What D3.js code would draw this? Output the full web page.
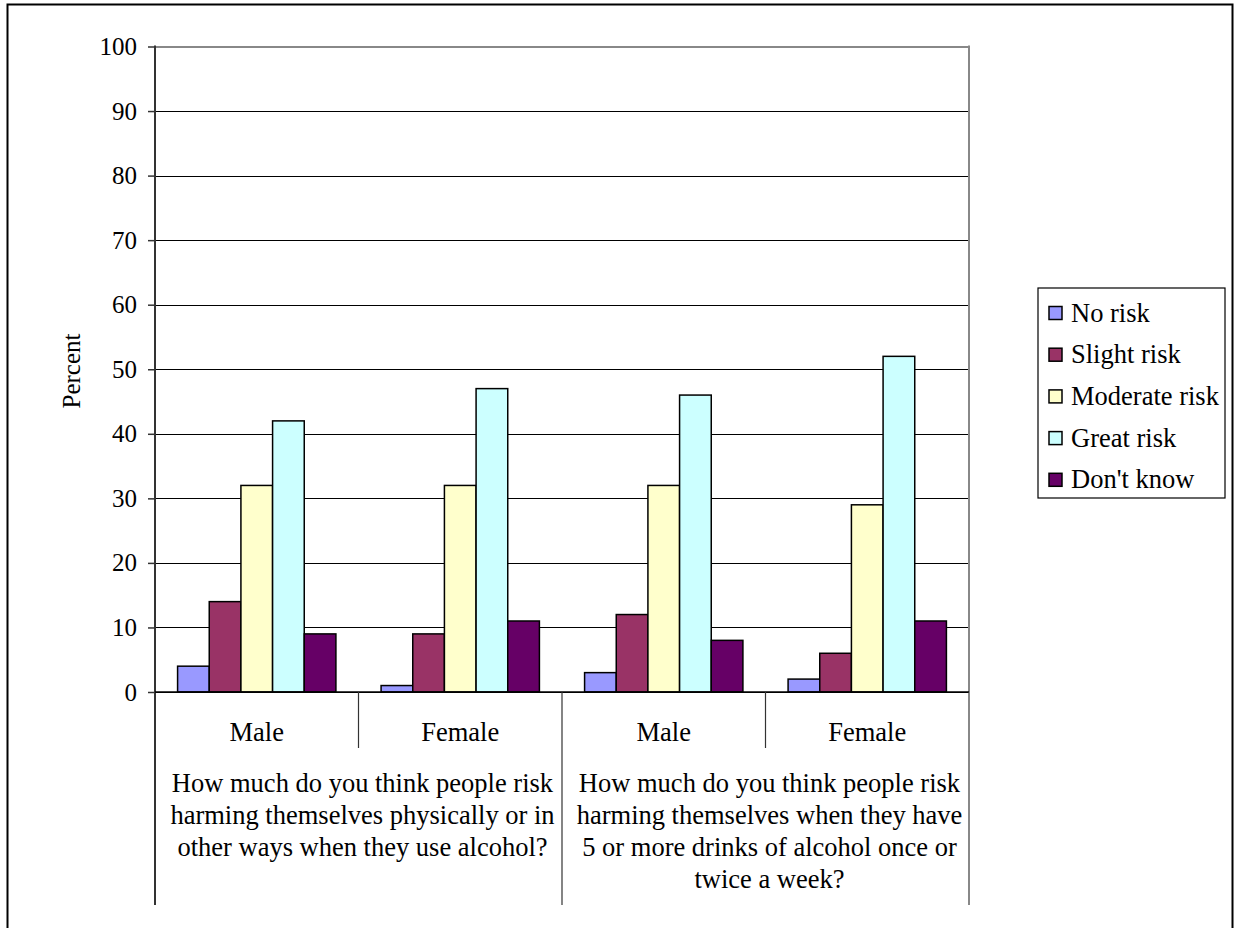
<!DOCTYPE html>
<html>
<head>
<meta charset="utf-8">
<script src="https://cdn.jsdelivr.net/npm/d3@7"></script>
<style>
  html, body { margin: 0; padding: 0; background: #fff; }
  svg { display: block; }
</style>
</head>
<body>
<svg id="chart" width="1235" height="928"></svg>
<script>
// ---- data ----
const seriesNames = ["No risk", "Slight risk", "Moderate risk", "Great risk", "Don't know"];
const seriesColors = ["#9999FF", "#993366", "#FFFFCC", "#CCFFFF", "#660066"];
const subCategories = ["Male", "Female", "Male", "Female"];
const questionLabels = [
  ["How much do you think people risk", "harming themselves physically or in", "other ways when they use alcohol?"],
  ["How much do you think people risk", "harming themselves when they have", "5 or more drinks of alcohol once or", "twice a week?"]
];
const noRisk       = [4, 1, 3, 2];
const slightRisk   = [14, 9, 12, 6];
const moderateRisk = [32, 32, 32, 29];
const greatRisk    = [42, 47, 46, 52];
const dontKnow     = [9, 11, 8, 11];
const seriesValues = [noRisk, slightRisk, moderateRisk, greatRisk, dontKnow];
const yTicks = [0, 10, 20, 30, 40, 50, 60, 70, 80, 90, 100];
const yLabel = "Percent";

// ---- layout ----
const svg = d3.select("#chart");
const pLeft = 155, pRight = 969, pTop = 46.5, pBottom = 692;
const labelBottom = 905;
const FS = 25, FS2 = 26.5;
const FF = "'Liberation Serif', 'Times New Roman', serif";

// outer border
svg.append("rect").attr("x", 7.5).attr("y", 4.5).attr("width", 1225).attr("height", 930)
  .attr("fill", "none").attr("stroke", "#000").attr("stroke-width", 2);

const catIdx = d3.range(subCategories.length);
const x0 = d3.scaleBand().domain(catIdx).range([pLeft, pRight]).paddingInner(0).paddingOuter(0);
const x1 = d3.scaleBand().domain(d3.range(seriesNames.length))
  .range([x0.bandwidth() * 0.111, x0.bandwidth() * 0.889]).padding(0);
const y = d3.scaleLinear().domain([0, 100]).range([pBottom, pTop]);

// gridlines
const grid = svg.append("g").attr("transform", `translate(${pLeft},0)`)
  .call(d3.axisLeft(y).tickValues(yTicks).tickSize(-(pRight - pLeft)).tickFormat(""));
grid.select(".domain").remove();
grid.selectAll("line").attr("stroke", "#000").attr("stroke-width", 1)
  .attr("shape-rendering", "crispEdges");
grid.selectAll(".tick").filter(d => d === 100).select("line").attr("stroke", "#888").attr("stroke-width", 2);

// plot right border
svg.append("line").attr("x1", pRight).attr("x2", pRight).attr("y1", pTop - 1).attr("y2", labelBottom)
  .attr("stroke", "#888").attr("stroke-width", 2);

// bars
const barG = svg.append("g");
seriesValues.forEach((vals, si) => {
  barG.selectAll(null).data(vals).enter().append("rect")
    .attr("x", (d, i) => x0(i) + x1(si))
    .attr("y", d => y(d))
    .attr("width", x1.bandwidth())
    .attr("height", d => pBottom - y(d))
    .attr("fill", seriesColors[si])
    .attr("stroke", "#000").attr("stroke-width", 1.5);
});

// y axis
const yAxis = svg.append("g").attr("transform", `translate(${pLeft},0)`)
  .call(d3.axisLeft(y).tickValues(yTicks).tickSize(7).tickPadding(11));
yAxis.attr("font-family", FF).attr("font-size", FS);
yAxis.select(".domain").remove();
yAxis.selectAll("line").attr("stroke", "#333").attr("stroke-width", 1.5);
yAxis.selectAll("text").attr("fill", "#000");
svg.append("line").attr("x1", pLeft).attr("x2", pLeft).attr("y1", pTop - 1).attr("y2", labelBottom)
  .attr("stroke", "#333").attr("stroke-width", 2);

// baseline
svg.append("line").attr("x1", pLeft).attr("x2", pRight).attr("y1", pBottom).attr("y2", pBottom)
  .attr("stroke", "#000").attr("stroke-width", 1.5);

// category separators
catIdx.slice(1).forEach(i => {
  const long = i % 2 === 0;
  svg.append("line").attr("x1", x0(i)).attr("x2", x0(i)).attr("y1", pBottom)
    .attr("y2", long ? labelBottom : 748).attr("stroke", "#333").attr("stroke-width", 1.2);
});

const txt = svg.append("g").attr("font-family", FF).attr("font-size", FS2).attr("fill", "#000");

// subcategory labels
txt.selectAll(null).data(subCategories).enter().append("text")
  .attr("x", (d, i) => x0(i) + x0.bandwidth() / 2)
  .attr("y", 741).attr("text-anchor", "middle").text(d => d);

// question labels
questionLabels.forEach((lines, gi) => {
  const cx = (x0(gi * 2) + x0(gi * 2 + 1) + x0.bandwidth()) / 2 + 4;
  lines.forEach((ln, li) => {
    txt.append("text").attr("x", cx).attr("y", 792 + li * 32)
      .attr("text-anchor", "middle").text(ln);
  });
});

// y label
txt.append("text").attr("transform", "translate(80,371) rotate(-90)")
  .attr("text-anchor", "middle").attr("font-size", FS).text(yLabel);

// legend
const lg = svg.append("g").attr("font-family", FF).attr("font-size", FS2);
lg.append("rect").attr("x", 1038).attr("y", 288).attr("width", 187).attr("height", 210)
  .attr("fill", "#fff").attr("stroke", "#000").attr("stroke-width", 1.2);
seriesNames.forEach((name, i) => {
  const cy = 313 + i * 41.7;
  lg.append("rect").attr("x", 1049).attr("y", cy - 6.5).attr("width", 13).attr("height", 13)
    .attr("fill", seriesColors[i]).attr("stroke", "#000").attr("stroke-width", 1.5);
  lg.append("text").attr("x", 1071).attr("y", cy + 8.5).attr("fill", "#000").text(name);
});
</script>
</body>
</html>
